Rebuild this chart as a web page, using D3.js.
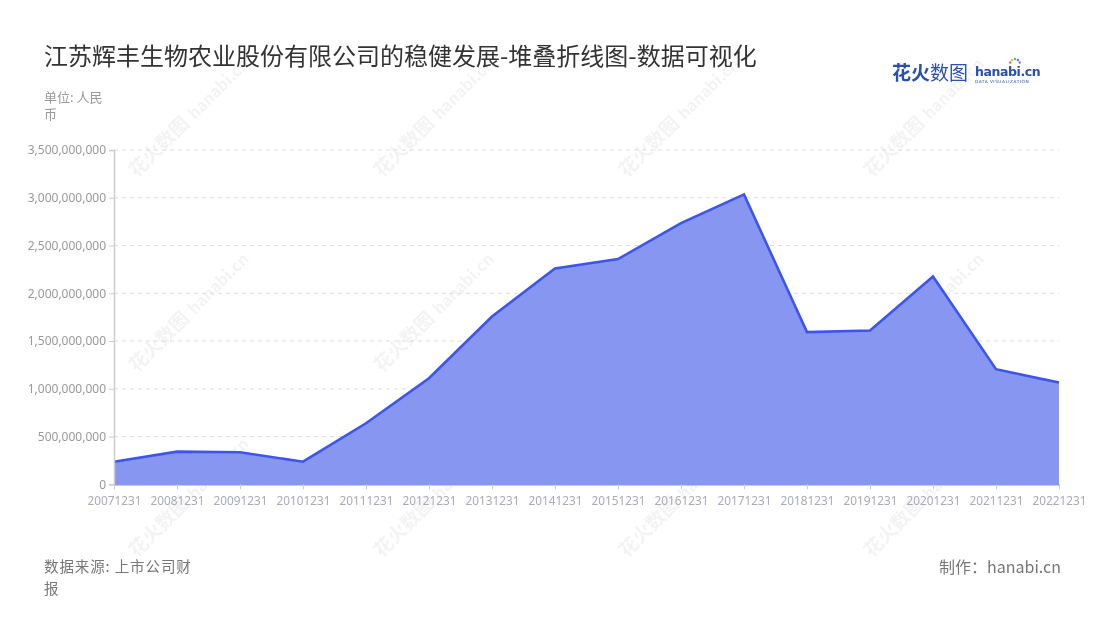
<!DOCTYPE html>
<html><head><meta charset="utf-8">
<script src="https://cdn.jsdelivr.net/npm/d3@7/dist/d3.min.js"></script>
<style>
body{margin:0;background:#fff;}
svg{font-family:"Noto Sans CJK SC","Noto Sans",sans-serif;}
</style></head>
<body><svg id="c" width="1100" height="620"></svg>
<script>
const categories = ["20071231","20081231","20091231","20101231","20111231","20121231","20131231","20141231","20151231","20161231","20171231","20181231","20191231","20201231","20211231","20221231"];
const values = [237e6,342e6,335e6,237e6,639e6,1111e6,1757e6,2260e6,2358e6,2735e6,3035e6,1593e6,1610e6,2176e6,1205e6,1065e6];
const yTicks = [0,500e6,1000e6,1500e6,2000e6,2500e6,3000e6,3500e6];
const title = "江苏辉丰生物农业股份有限公司的稳健发展-堆叠折线图-数据可视化";

const svg = d3.select("#c");
const m={l:114,r:1059,t:150,b:484.3};
const x = d3.scalePoint().domain(categories).range([m.l,m.r]);
const y = d3.scaleLinear().domain([0,3500e6]).range([m.b,m.t]);

// watermarks
const wm = svg.append("g").attr("opacity",0.05);
for(let i=0;i<4;i++){ for(let j=0;j<3;j++){
  const cx=165+i*245, cy=[150,345,530][j];
  const g=wm.append("g").attr("transform",`translate(${cx},${cy}) rotate(-45)`);
  g.append("text").attr("x",-40).attr("y",0).attr("font-size",19).attr("font-weight",700).attr("fill","#000").text("花火数图");
  g.append("text").attr("x",42).attr("y",0).attr("font-size",16).attr("font-weight",700).attr("fill","#000").text("hanabi.cn");
}}

// title
svg.append("text").attr("x",44).attr("y",65).attr("font-size",24).attr("fill","#333").text(title);
// logo
const lg=svg.append("g");
lg.append("text").attr("x",892).attr("y",80).attr("font-size",19).attr("font-weight",700).attr("fill","#2a4fb0").text("花火");
lg.append("text").attr("x",930).attr("y",80).attr("font-size",19).attr("fill","#2a4fb0").text("数图");
lg.append("text").attr("x",975).attr("y",76).attr("font-size",12.5).attr("font-weight",700).attr("fill","#2a4fb0").attr("font-family","DejaVu Sans").attr("letter-spacing","-0.4").text("hanabi.cn");
lg.append("text").attr("x",975).attr("y",82.5).attr("font-size",4.3).attr("fill","#2a4fb0").attr("font-family","DejaVu Sans").attr("letter-spacing","0.5").text("DATA VISUALIZATION");
const dots=["#f25c5c","#f5b93d","#4cc26a","#3d8bf0","#b45cf0"];
dots.forEach((c,i)=>{const a=-Math.PI*0.9+i*Math.PI*0.2;lg.append("circle").attr("cx",1015+Math.cos(a)*5).attr("cy",64+Math.sin(a)*5).attr("r",1.2).attr("fill",c);});

// unit
svg.append("text").attr("x",44).attr("y",102).attr("font-size",13).attr("fill","#999").text("单位: 人民");
svg.append("text").attr("x",44).attr("y",119).attr("font-size",13).attr("fill","#999").text("币");

// grid
svg.append("g").selectAll("line").data(yTicks.slice(1)).join("line")
  .attr("x1",m.l).attr("x2",m.r).attr("y1",d=>y(d)).attr("y2",d=>y(d))
  .attr("stroke","#ddd").attr("stroke-dasharray","4,4");

// area
const area=d3.area().x((d,i)=>x(categories[i])).y0(y(0)).y1(d=>y(d));
svg.append("path").datum(values).attr("d",area).attr("fill","#8796f0");
const line=d3.line().x((d,i)=>x(categories[i])).y(d=>y(d));
svg.append("path").datum(values).attr("d",line).attr("fill","none").attr("stroke","#3d55ee").attr("stroke-width",2.6).attr("stroke-linejoin","miter");

// y axis
const ya=svg.append("g").attr("transform",`translate(${m.l},0)`)
  .call(d3.axisLeft(y).tickValues(yTicks).tickFormat(d3.format(",")).tickSize(5).tickPadding(3));
ya.select(".domain").attr("stroke","#ccc").attr("stroke-width",1.5);
ya.selectAll(".tick line").attr("stroke","#ccc");
ya.selectAll(".tick text").attr("fill","#999").attr("font-size",12).attr("font-family","'Noto Sans',sans-serif");

// x axis
const xa=svg.append("g").attr("transform",`translate(0,${m.b})`)
  .call(d3.axisBottom(x).tickSize(5).tickPadding(7).tickSizeOuter(0));
xa.select(".domain").attr("stroke","#8796f0").attr("stroke-width",1.5);
xa.selectAll(".tick line").attr("stroke","#ccc");
xa.selectAll(".tick text").attr("fill","#aab").attr("font-size",11.8).attr("font-family","'Noto Sans',sans-serif");

// footer
svg.append("text").attr("x",44).attr("y",572).attr("font-size",14.5).attr("letter-spacing",0.9).attr("fill","#777").text("数据来源: 上市公司财");
svg.append("text").attr("x",44).attr("y",594).attr("font-size",14.5).attr("fill","#777").text("报");
svg.append("text").attr("x",1061).attr("y",573).attr("text-anchor","end").attr("font-size",16).attr("fill","#777").text("制作：hanabi.cn");
</script></body></html>
